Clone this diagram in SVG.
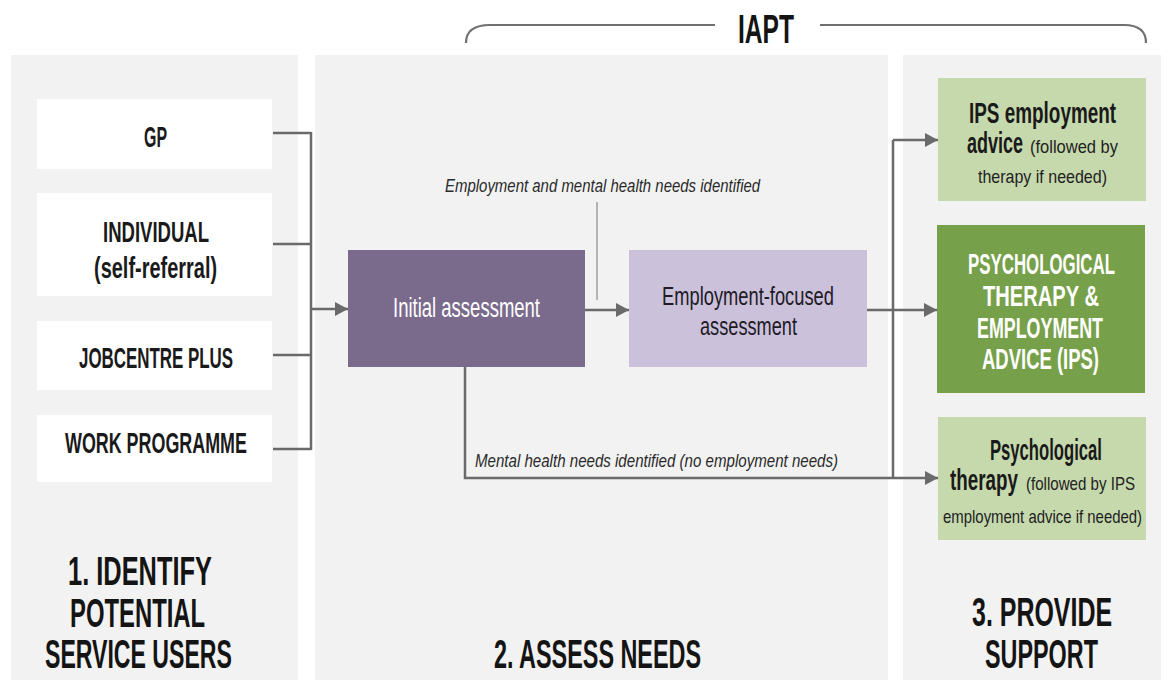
<svg xmlns="http://www.w3.org/2000/svg" width="1171" height="680" viewBox="0 0 1171 680">
<style>
  text { font-family: 'Liberation Sans', Arial, sans-serif; }
  .panel { fill: #f2f2f2; }
  .src { fill: #ffffff; }
  .lbl { font-size: 29px; font-weight: bold; fill: #1a1a1a; }
  .head { font-size: 40px; font-weight: bold; fill: #141414; }
  .iapt { font-size: 41px; font-weight: bold; fill: #141414; }
  .box { font-size: 27px; fill: #ffffff; }
  .boxd { font-size: 26px; fill: #1e1a26; }
  .ital { font-size: 18px; font-style: italic; fill: #2a2a2a; }
  .gb { font-size: 29px; font-weight: bold; fill: #1a1a1a; }
  .gs { font-size: 18px; fill: #222222; }
  .gw { font-size: 29px; font-weight: bold; fill: #ffffff; }
  .conn { fill: none; stroke: #6a6a6a; stroke-width: 2.5; }
  .thin { fill: none; stroke: #8a8a8a; stroke-width: 1.2; }
  .brace { fill: none; stroke: #707070; stroke-width: 2.2; }
</style>
<defs>
  <marker id="arr" markerUnits="userSpaceOnUse" markerWidth="14" markerHeight="14" refX="13" refY="7" orient="auto">
    <path d="M0,0 L13,7 L0,14 Z" fill="#6a6a6a"/>
  </marker>
</defs>

<rect width="1171" height="680" fill="#ffffff"/>

<g id="panels">
  <rect class="panel" x="11" y="55" width="287" height="625"/>
  <rect class="panel" x="315" y="55" width="573" height="625"/>
  <rect class="panel" x="903" y="55" width="258" height="625"/>
</g>

<g id="iapt-brace">
  <path class="brace" d="M466,43 Q466,25 490,25 L715,25"/>
  <path class="brace" d="M820,25 L1124,25 Q1146,25 1146,43"/>
  <text class="iapt" transform="translate(738,43) scale(0.600,1)" textLength="93.4" lengthAdjust="spacingAndGlyphs">IAPT</text>
</g>

<g id="connectors">
  <path class="conn" d="M273,133 H311 M273,244 H311 M273,355 H311 M273,449 H311 M311,132 V450"/>
  <path class="conn" d="M311,309 H348" marker-end="url(#arr)"/>
  <path class="conn" d="M585,310 H629" marker-end="url(#arr)"/>
  <path class="thin" d="M597,202 V300"/>
  <path class="conn" d="M867,310 H937" marker-end="url(#arr)"/>
  <path class="conn" d="M893,140 V478"/>
  <path class="conn" d="M893,140 H938" marker-end="url(#arr)"/>
  <path class="conn" d="M465,367 V478 H938" marker-end="url(#arr)"/>
  <text class="ital" transform="translate(445,192) scale(0.831,1)" textLength="379.2" lengthAdjust="spacingAndGlyphs">Employment and mental health needs identified</text>
  <text class="ital" transform="translate(475,467) scale(0.838,1)" textLength="433.2" lengthAdjust="spacingAndGlyphs">Mental health needs identified (no employment needs)</text>
</g>

<g id="gp">
  <rect class="src" x="37" y="99" width="235" height="70"/>
  <text class="lbl" transform="translate(144,147) scale(0.549,1)" textLength="41.9" lengthAdjust="spacingAndGlyphs">GP</text>
</g>
<g id="individual">
  <rect class="src" x="37" y="193" width="235" height="103"/>
  <text class="lbl" transform="translate(103,242) scale(0.639,1)" textLength="165.9" lengthAdjust="spacingAndGlyphs">INDIVIDUAL</text>
  <text class="lbl" transform="translate(94,278) scale(0.688,1)" textLength="178.9" lengthAdjust="spacingAndGlyphs">(self-referral)</text>
</g>
<g id="jobcentre">
  <rect class="src" x="37" y="321" width="235" height="69"/>
  <text class="lbl" transform="translate(79,368) scale(0.583,1)" textLength="264.2" lengthAdjust="spacingAndGlyphs">JOBCENTRE PLUS</text>
</g>
<g id="work-programme">
  <rect class="src" x="37" y="415" width="235" height="67"/>
  <text class="lbl" transform="translate(65,453) scale(0.617,1)" textLength="294.8" lengthAdjust="spacingAndGlyphs">WORK PROGRAMME</text>
</g>

<g id="initial-assessment">
  <rect x="348" y="250" width="237" height="117" fill="#7a6a8c"/>
  <text class="box" transform="translate(393,317) scale(0.685,1)" textLength="214.6" lengthAdjust="spacingAndGlyphs">Initial assessment</text>
</g>
<g id="employment-assessment">
  <rect x="629" y="250" width="238" height="117" fill="#cbc1db"/>
  <text class="boxd" transform="translate(662,305) scale(0.704,1)" textLength="244.2" lengthAdjust="spacingAndGlyphs">Employment-focused</text>
  <text class="boxd" transform="translate(700,335) scale(0.699,1)" textLength="138.7" lengthAdjust="spacingAndGlyphs">assessment</text>
</g>

<g id="ips-advice">
  <rect x="938" y="78" width="208" height="123" fill="#c6d9ad"/>
  <text class="gb" transform="translate(969,123) scale(0.652,1)" textLength="225.6" lengthAdjust="spacingAndGlyphs">IPS employment</text>
  <text class="gb" transform="translate(967,153) scale(0.620,1)" textLength="90.3" lengthAdjust="spacingAndGlyphs">advice</text>
  <text class="gs" transform="translate(1030,153) scale(0.917,1)" textLength="96.0" lengthAdjust="spacingAndGlyphs">(followed by</text>
  <text class="gs" transform="translate(978,183) scale(0.889,1)" textLength="145.1" lengthAdjust="spacingAndGlyphs">therapy if needed)</text>
</g>
<g id="therapy-and-advice">
  <rect x="937" y="225" width="208" height="168" fill="#77a04a"/>
  <text class="gw" transform="translate(968,274) scale(0.581,1)" textLength="253.0" lengthAdjust="spacingAndGlyphs">PSYCHOLOGICAL</text>
  <text class="gw" transform="translate(983,306) scale(0.692,1)" textLength="167.6" lengthAdjust="spacingAndGlyphs">THERAPY &amp;</text>
  <text class="gw" transform="translate(977,338) scale(0.616,1)" textLength="204.6" lengthAdjust="spacingAndGlyphs">EMPLOYMENT</text>
  <text class="gw" transform="translate(982,369) scale(0.637,1)" textLength="183.7" lengthAdjust="spacingAndGlyphs">ADVICE (IPS)</text>
</g>
<g id="psychological-therapy">
  <rect x="938" y="417" width="208" height="123" fill="#c6d9ad"/>
  <text class="gb" transform="translate(990,460) scale(0.574,1)" textLength="195.0" lengthAdjust="spacingAndGlyphs">Psychological</text>
  <text class="gb" transform="translate(950,490) scale(0.649,1)" textLength="104.7" lengthAdjust="spacingAndGlyphs">therapy</text>
  <text class="gs" transform="translate(1026,490) scale(0.838,1)" textLength="130.1" lengthAdjust="spacingAndGlyphs">(followed by IPS</text>
  <text class="gs" transform="translate(943,523) scale(0.829,1)" textLength="240.1" lengthAdjust="spacingAndGlyphs">employment advice if needed)</text>
</g>

<g id="headings">
  <text class="head" transform="translate(68,585) scale(0.635,1)" textLength="226.7" lengthAdjust="spacingAndGlyphs">1. IDENTIFY</text>
  <text class="head" transform="translate(70,627) scale(0.596,1)" textLength="226.7" lengthAdjust="spacingAndGlyphs">POTENTIAL</text>
  <text class="head" transform="translate(45,668) scale(0.576,1)" textLength="324.5" lengthAdjust="spacingAndGlyphs">SERVICE USERS</text>
  <text class="head" transform="translate(494,668) scale(0.582,1)" textLength="355.7" lengthAdjust="spacingAndGlyphs">2. ASSESS NEEDS</text>
  <text class="head" transform="translate(972,626) scale(0.624,1)" textLength="224.5" lengthAdjust="spacingAndGlyphs">3. PROVIDE</text>
  <text class="head" transform="translate(985,668) scale(0.584,1)" textLength="193.4" lengthAdjust="spacingAndGlyphs">SUPPORT</text>
</g>
</svg>
